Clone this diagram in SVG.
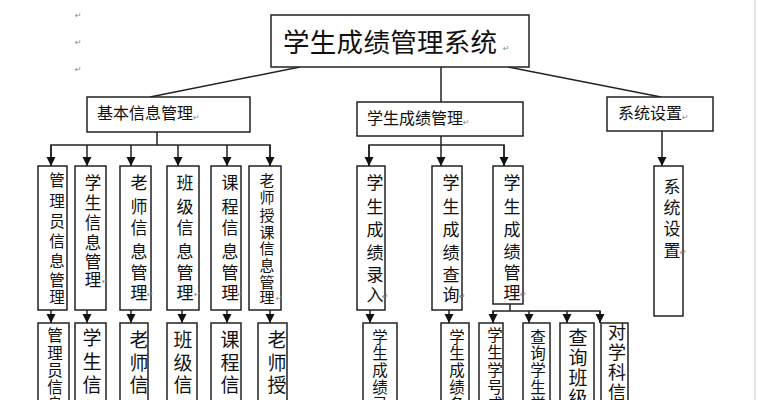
<svg xmlns="http://www.w3.org/2000/svg" width="758" height="400" viewBox="0 0 758 400">
<defs>
<marker id="ah" viewBox="0 0 10 10" refX="10" refY="5" markerWidth="9" markerHeight="10" markerUnits="userSpaceOnUse" orient="auto">
<path d="M0,0 L10,5 L0,10 z" fill="#111"/>
</marker>
<style>
.box{fill:#fff;stroke:#222;stroke-width:1.5}
.t{font-family:"Noto Sans CJK SC","Noto Sans",sans-serif;fill:#111;text-anchor:middle}
.h{font-family:"Noto Sans CJK SC","Noto Sans",sans-serif;fill:#111}
.rm{font-family:"DejaVu Sans",sans-serif;fill:#888;font-size:8px}
.ln{fill:none;stroke:#222;stroke-width:1.5}
.ar{fill:none;stroke:#222;stroke-width:1.5;marker-end:url(#ah)}
</style>
</defs>
<rect width="758" height="400" fill="#fff"/>
<line x1="755" y1="0" x2="755" y2="400" stroke="#e4e4e4" stroke-width="2"/>
<g id="marks">
<text class="rm" x="75" y="18">↵</text>
<text class="rm" x="75" y="45">↵</text>
<text class="rm" x="75" y="72">↵</text>
</g>
<g id="connectors">
<line class="ln" x1="300" y1="67" x2="150" y2="97"/>
<line class="ln" x1="441" y1="67" x2="441" y2="102"/>
<line class="ln" x1="508" y1="67" x2="661" y2="97"/>
<line class="ln" x1="157" y1="132" x2="157" y2="145"/>
<path class="ln" d="M51,166 L51,145 L270,145 L270,166"/>
<line class="ar" x1="51" y1="145" x2="51" y2="166"/>
<line class="ar" x1="87" y1="145" x2="87" y2="166"/>
<line class="ar" x1="131" y1="145" x2="131" y2="166"/>
<line class="ar" x1="178" y1="145" x2="178" y2="166"/>
<line class="ar" x1="227" y1="145" x2="227" y2="166"/>
<line class="ar" x1="270" y1="145" x2="270" y2="166"/>
<line class="ar" x1="51" y1="310" x2="51" y2="323"/>
<line class="ar" x1="87" y1="310" x2="87" y2="323"/>
<line class="ar" x1="131" y1="310" x2="131" y2="323"/>
<line class="ar" x1="182" y1="310" x2="182" y2="323"/>
<line class="ar" x1="227" y1="310" x2="227" y2="323"/>
<line class="ar" x1="270" y1="310" x2="270" y2="323"/>
<line class="ln" x1="441" y1="136" x2="441" y2="145"/>
<path class="ln" d="M369,166 L369,145 L504,145 L504,166"/>
<line class="ar" x1="369" y1="145" x2="369" y2="166"/>
<line class="ar" x1="441" y1="145" x2="441" y2="166"/>
<line class="ar" x1="504" y1="145" x2="504" y2="166"/>
<line class="ar" x1="370" y1="310" x2="370" y2="323"/>
<line class="ar" x1="449" y1="310" x2="449" y2="323"/>
<line class="ln" x1="510" y1="304" x2="510" y2="311"/>
<path class="ln" d="M493,323 L493,311 L600,311 L600,323"/>
<line class="ar" x1="493" y1="311" x2="493" y2="323"/>
<line class="ar" x1="529" y1="311" x2="529" y2="323"/>
<line class="ar" x1="567" y1="311" x2="567" y2="323"/>
<line class="ar" x1="600" y1="311" x2="600" y2="323"/>
<line class="ar" x1="662" y1="131" x2="662" y2="166"/>
</g>
<g id="root">
<rect class="box" x="271" y="15" width="258" height="52"/>
<text class="h" x="283" y="52" font-size="26.5" letter-spacing="0.3">学生成绩管理系统</text>
<text class="rm" x="503" y="51">↵</text>
</g>
<g id="basic">
<rect class="box" x="87" y="97" width="163" height="35"/>
<text class="h" x="97" y="119" font-size="16">基本信息管理</text>
<text class="rm" x="193" y="120">↵</text>
</g>
<g id="score">
<rect class="box" x="357" y="102" width="166" height="34"/>
<text class="h" x="367" y="124" font-size="16">学生成绩管理</text>
<text class="rm" x="463" y="125">↵</text>
</g>
<g id="settings">
<rect class="box" x="607" y="97" width="106" height="34"/>
<text class="h" x="618" y="119" font-size="16">系统设置</text>
<text class="rm" x="682" y="120">↵</text>
</g>
<g id="admin">
<rect class="box" x="38" y="166" width="29" height="144"/>
<text class="t" font-size="15.5"><tspan x="57" y="186">管</tspan><tspan x="57" y="207">理</tspan><tspan x="57" y="227">员</tspan><tspan x="57" y="247">信</tspan><tspan x="57" y="267">息</tspan><tspan x="57" y="286">管</tspan><tspan x="57" y="303">理</tspan></text>
</g>
<g id="student">
<rect class="box" x="75" y="166" width="31" height="144"/>
<text class="t" font-size="16.5"><tspan x="93" y="189">学</tspan><tspan x="93" y="209">生</tspan><tspan x="93" y="229">信</tspan><tspan x="93" y="249">息</tspan><tspan x="93" y="268">管</tspan><tspan x="93" y="286">理</tspan></text>
<text class="rm" x="102" y="284">↵</text>
</g>
<g id="teacher">
<rect class="box" x="120" y="166" width="31" height="144"/>
<text class="t" font-size="17"><tspan x="139" y="189">老</tspan><tspan x="139" y="213">师</tspan><tspan x="139" y="234">信</tspan><tspan x="139" y="258">息</tspan><tspan x="139" y="279">管</tspan><tspan x="139" y="299">理</tspan></text>
<text class="rm" x="147" y="297">↵</text>
</g>
<g id="class">
<rect class="box" x="167" y="166" width="32" height="144"/>
<text class="t" font-size="17"><tspan x="185" y="189">班</tspan><tspan x="185" y="213">级</tspan><tspan x="185" y="234">信</tspan><tspan x="185" y="258">息</tspan><tspan x="185" y="279">管</tspan><tspan x="185" y="299">理</tspan></text>
<text class="rm" x="194" y="297">↵</text>
</g>
<g id="course">
<rect class="box" x="211" y="166" width="30" height="144"/>
<text class="t" font-size="17"><tspan x="230" y="189">课</tspan><tspan x="230" y="213">程</tspan><tspan x="230" y="234">信</tspan><tspan x="230" y="258">息</tspan><tspan x="230" y="279">管</tspan><tspan x="230" y="299">理</tspan></text>
<text class="rm" x="237" y="297">↵</text>
</g>
<g id="teaching">
<rect class="box" x="249" y="166" width="32" height="144"/>
<text class="t" font-size="15"><tspan x="267" y="186">老</tspan><tspan x="267" y="203">师</tspan><tspan x="267" y="221">授</tspan><tspan x="267" y="238">课</tspan><tspan x="267" y="254">信</tspan><tspan x="267" y="271">息</tspan><tspan x="267" y="288">管</tspan><tspan x="267" y="303">理</tspan></text>
<text class="rm" x="276" y="301">↵</text>
</g>
<g id="entry">
<rect class="box" x="357" y="166" width="28" height="144"/>
<text class="t" font-size="17"><tspan x="375" y="189">学</tspan><tspan x="375" y="213">生</tspan><tspan x="375" y="236">成</tspan><tspan x="375" y="259">绩</tspan><tspan x="375" y="281">录</tspan><tspan x="375" y="301">入</tspan></text>
<text class="rm" x="382" y="299">↵</text>
</g>
<g id="query">
<rect class="box" x="432" y="166" width="30" height="144"/>
<text class="t" font-size="17"><tspan x="451" y="189">学</tspan><tspan x="451" y="213">生</tspan><tspan x="451" y="236">成</tspan><tspan x="451" y="259">绩</tspan><tspan x="451" y="281">查</tspan><tspan x="451" y="301">询</tspan></text>
<text class="rm" x="459" y="299">↵</text>
</g>
<g id="manage">
<rect class="box" x="493" y="166" width="30" height="138"/>
<text class="t" font-size="17"><tspan x="512" y="189">学</tspan><tspan x="512" y="213">生</tspan><tspan x="512" y="236">成</tspan><tspan x="512" y="258">绩</tspan><tspan x="512" y="279">管</tspan><tspan x="512" y="299">理</tspan></text>
<text class="rm" x="520" y="297">↵</text>
</g>
<g id="settings2">
<rect class="box" x="654" y="166" width="29" height="150"/>
<text class="t" font-size="17"><tspan x="672" y="193">系</tspan><tspan x="672" y="214">统</tspan><tspan x="672" y="235">设</tspan><tspan x="672" y="257">置</tspan></text>
<text class="rm" x="680" y="255">↵</text>
</g>
<g id="admin2">
<rect class="box" x="38" y="323" width="31" height="100"/>
<text class="t" font-size="15.5"><tspan x="55" y="341">管</tspan><tspan x="55" y="359">理</tspan><tspan x="55" y="376">员</tspan><tspan x="55" y="393">信</tspan><tspan x="55" y="410">息</tspan></text>
</g>
<g id="student2">
<rect class="box" x="75" y="323" width="31" height="100"/>
<text class="t" font-size="19"><tspan x="92" y="345">学</tspan><tspan x="92" y="369">生</tspan><tspan x="92" y="392">信</tspan></text>
</g>
<g id="teacher2">
<rect class="box" x="120" y="323" width="28" height="100"/>
<text class="t" font-size="19"><tspan x="139" y="347">老</tspan><tspan x="139" y="370">师</tspan><tspan x="139" y="392">信</tspan></text>
</g>
<g id="class2">
<rect class="box" x="167" y="323" width="30" height="100"/>
<text class="t" font-size="19"><tspan x="183" y="347">班</tspan><tspan x="183" y="370">级</tspan><tspan x="183" y="392">信</tspan></text>
</g>
<g id="course2">
<rect class="box" x="211" y="323" width="30" height="100"/>
<text class="t" font-size="19"><tspan x="230" y="347">课</tspan><tspan x="230" y="370">程</tspan><tspan x="230" y="392">信</tspan></text>
</g>
<g id="teaching2">
<rect class="box" x="258" y="323" width="29" height="100"/>
<text class="t" font-size="19"><tspan x="277" y="347">老</tspan><tspan x="277" y="370">师</tspan><tspan x="277" y="392">授</tspan></text>
</g>
<g id="entry2">
<rect class="box" x="363" y="323" width="34" height="100"/>
<text class="t" font-size="15.5"><tspan x="380" y="343">学</tspan><tspan x="380" y="359">生</tspan><tspan x="380" y="376">成</tspan><tspan x="380" y="393">绩</tspan><tspan x="380" y="410">录</tspan></text>
</g>
<g id="backup">
<rect class="box" x="441" y="323" width="28" height="100"/>
<text class="t" font-size="15.5"><tspan x="457" y="343">学</tspan><tspan x="457" y="359">生</tspan><tspan x="457" y="376">成</tspan><tspan x="457" y="393">绩</tspan><tspan x="457" y="410">备</tspan></text>
</g>
<g id="studentno">
<rect class="box" x="479" y="323" width="24" height="100"/>
<text class="t" font-size="15.5"><tspan x="495" y="341">学</tspan><tspan x="495" y="358">生</tspan><tspan x="495" y="376">学</tspan><tspan x="495" y="393">号</tspan><tspan x="495" y="410">成</tspan></text>
</g>
<g id="querystudent">
<rect class="box" x="523" y="323" width="27" height="100"/>
<text class="t" font-size="15.5"><tspan x="538" y="343">查</tspan><tspan x="538" y="359">询</tspan><tspan x="538" y="376">学</tspan><tspan x="538" y="393">生</tspan><tspan x="538" y="410">学</tspan></text>
</g>
<g id="queryclass">
<rect class="box" x="560" y="323" width="34" height="100"/>
<text class="t" font-size="19"><tspan x="578" y="345">查</tspan><tspan x="578" y="365">询</tspan><tspan x="578" y="385">班</tspan><tspan x="578" y="405">级</tspan></text>
</g>
<g id="subject">
<rect class="box" x="601" y="323" width="27" height="100"/>
<text class="t" font-size="18"><tspan x="617" y="339">对</tspan><tspan x="617" y="359">学</tspan><tspan x="617" y="379">科</tspan><tspan x="617" y="399">信</tspan></text>
</g>
</svg>
